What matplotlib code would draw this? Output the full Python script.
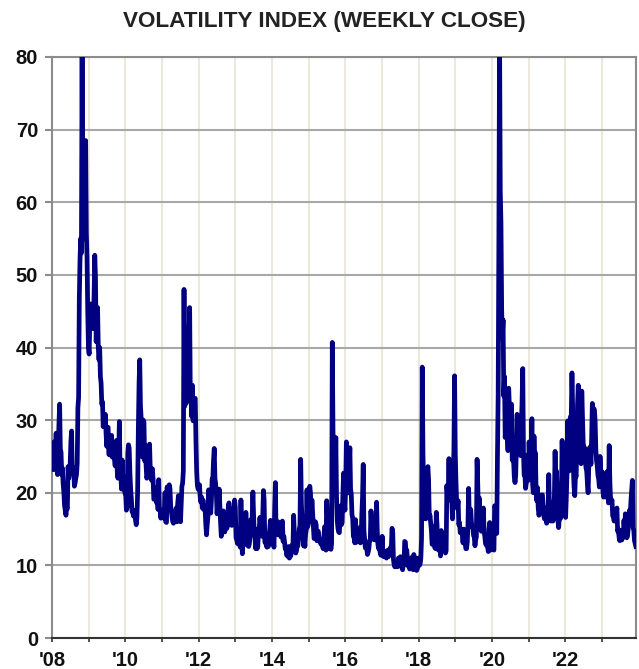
import matplotlib
matplotlib.use("Agg")
import matplotlib.pyplot as plt
import matplotlib.dates as mdates
from matplotlib import font_manager
import pandas as pd

# Weekly (Monday) VIX closes, one list per year
vix_2008 = [23.2, 24.0, 27.0, 25.5, 24.0, 28.2, 24.0, 22.5, 26.0, 29.4, 32.2, 26.0, 25.6,
            22.5, 23.4, 21.2, 20.1, 18.2, 17.5, 16.9, 18.0, 17.8, 23.6, 22.0, 22.6, 23.9,
            27.0, 28.5, 22.9, 22.6, 23.5, 20.9, 21.3, 22.0, 22.5, 24.0, 31.7, 33.1, 46.7,
            52.1, 55.0, 53.0, 80.9, 54.9, 56.1, 67.6, 64.7, 68.5, 55.8, 52.4, 44.9, 40.0]
vix_2009 = [39.1, 44.0, 46.0, 45.7, 43.0, 42.6, 44.0, 47.1, 52.7, 49.7, 40.8, 43.2, 45.5,
            40.0, 38.3, 40.0, 36.0, 35.1, 32.2, 32.5, 29.1, 30.0, 29.8, 30.8, 28.3, 26.4,
            29.0, 29.0, 25.3, 25.2, 26.0, 26.7, 27.9, 24.9, 26.0, 25.9, 24.6, 23.7, 25.6,
            27.2, 22.9, 22.0, 25.1, 29.8, 23.1, 22.9, 20.5, 24.5, 21.3, 22.3, 20.5, 19.9]
vix_2010 = [19.8, 17.6, 18.0, 25.4, 26.6, 26.1, 22.7, 20.6, 19.3, 17.4, 17.6, 16.8, 17.5,
            17.0, 16.2, 15.6, 16.6, 20.2, 28.8, 35.0, 38.3, 32.0, 30.3, 27.5, 24.9, 30.0,
            29.7, 24.4, 26.5, 23.8, 22.0, 22.4, 24.3, 26.4, 26.7, 23.0, 22.0, 21.7, 23.3,
            21.8, 19.1, 19.1, 20.7, 20.7, 18.6, 20.2, 17.7, 21.8, 17.9, 17.6, 16.5, 17.5]
vix_2011 = [17.6, 17.5, 16.5, 17.6, 20.0, 16.0, 15.9, 20.8, 18.4, 20.0, 21.1, 20.6, 18.2,
            17.4, 16.6, 16.0, 15.8, 16.0, 16.4, 17.4, 17.9, 16.0, 18.5, 19.6, 19.2, 17.7,
            16.0, 18.4, 20.9, 21.3, 23.0, 48.0, 31.9, 42.4, 32.3, 36.0, 38.6, 37.5, 40.9,
            45.5, 32.9, 33.4, 30.5, 34.8, 29.9, 32.8, 32.9, 33.0, 27.0, 22.9, 21.0, 20.5]
vix_2012 = [20.5, 21.1, 19.4, 18.7, 19.4, 17.9, 19.0, 17.7, 18.2, 17.7, 15.6, 14.2, 15.6,
            16.7, 20.4, 18.5, 18.9, 17.2, 18.9, 21.9, 22.0, 24.5, 26.1, 22.0, 21.2, 20.0,
            17.1, 18.3, 18.2, 20.5, 18.2, 15.9, 14.0, 14.7, 16.9, 17.5, 16.3, 14.6, 16.0,
            16.3, 15.1, 15.7, 18.1, 18.6, 17.6, 17.2, 15.6, 15.5, 17.0, 16.4, 17.5, 19.0, 18.0]
vix_2013 = [13.8, 13.5, 13.0, 13.6, 14.7, 13.0, 12.5, 19.0, 14.0, 11.6, 14.4, 13.7,
            13.6, 12.9, 17.3, 14.4, 13.7, 12.7, 12.6, 13.0, 14.0, 16.3, 15.4, 16.6, 20.1,
            16.9, 14.4, 13.8, 12.3, 13.4, 12.3, 12.6, 15.1, 15.0, 16.6, 15.6, 14.4, 14.0, 16.6,
            20.3, 19.0, 13.2, 13.2, 12.8, 12.5, 13.1, 12.6, 14.0, 15.0, 16.2, 13.0, 13.7]
vix_2014 = [13.6, 13.3, 12.5, 18.0, 21.4, 14.5, 14.3, 14.2, 16.0, 14.2, 14.5, 15.1, 13.9,
            15.6, 16.1, 13.3, 14.0, 13.3, 12.3, 12.4, 11.4, 11.6, 11.2, 12.6, 11.0, 11.6,
            11.3, 12.2, 12.8, 12.7, 16.9, 14.2, 12.3, 11.7, 12.0, 12.6, 12.7, 13.7, 15.0,
            15.5, 24.6, 18.6, 16.0, 14.9, 12.7, 14.0, 12.6, 14.3, 14.9, 20.4, 15.3, 15.9]
vix_2015 = [19.9, 20.9, 19.9, 16.0, 19.0, 17.3, 15.8, 13.7, 13.9, 16.0, 15.6, 13.4, 14.5,
            14.7, 13.9, 13.3, 13.1, 12.9, 13.6, 12.7, 12.3, 13.8, 15.3, 15.4, 12.1, 18.9,
            16.8, 13.0, 12.3, 15.6, 13.0, 12.2, 13.0, 40.7, 28.4, 25.6, 24.4, 20.1, 27.6,
            19.5, 16.2, 15.1, 14.6, 14.5, 16.5, 18.2, 15.6, 15.9, 19.6, 22.7, 18.7, 17.6]
vix_2016 = [20.7, 27.0, 24.0, 22.5, 19.98, 23.4, 26.2, 20.5, 19.8, 17.0, 16.5, 14.0, 13.8,
            13.1, 16.3, 13.6, 13.2, 14.7, 14.6, 15.0, 15.2, 13.1, 13.5, 17.0, 19.4, 23.9,
            14.8, 13.5, 12.4, 12.9, 12.4, 11.5, 11.8, 12.3, 13.4, 13.5, 17.5, 15.5, 14.5,
            13.6, 15.4, 15.9, 13.5, 16.0, 18.7, 14.7, 12.8, 12.3, 13.0, 11.8, 11.4, 12.2]
vix_2017 = [14.0, 11.6, 11.2, 11.8, 11.9, 11.4, 11.0, 11.5, 12.1, 11.2, 11.4, 12.3, 12.5,
            12.4, 15.1, 14.6, 10.8, 10.1, 9.8, 10.4, 10.1, 10.4, 9.8, 11.0, 10.9, 10.0,
            11.2, 11.1, 9.8, 9.4, 10.3, 10.0, 13.3, 13.2, 11.3, 12.1, 10.7, 9.9, 10.2,
            9.5, 9.9, 10.3, 11.1, 10.5, 9.4, 11.5, 10.6, 9.9, 11.0, 9.3, 9.5, 10.3]
vix_2018 = [11.0, 10.0, 10.2, 11.0, 13.8, 37.3, 25.6, 19.5, 16.5, 18.7, 16.4, 19.0, 22.5,
            23.6, 21.8, 16.5, 16.9, 15.9, 14.8, 12.9, 13.1, 15.4, 12.7, 12.4, 12.3, 17.3,
            15.6, 12.7, 12.1, 12.6, 14.3, 11.3, 14.8, 12.5, 12.2, 12.9, 14.2, 13.0, 11.7,
            12.0, 21.0, 19.4, 19.6, 24.7, 19.0, 20.5, 22.5, 18.9, 16.4, 22.6, 25.6, 36.1, 25.4]
vix_2019 = [21.4, 18.6, 17.8, 18.9, 15.6, 15.9, 14.5, 14.9, 14.6, 14.3, 13.1, 15.0,
            13.4, 13.2, 12.3, 12.3, 13.1, 15.4, 20.6, 16.3, 16.0, 17.7, 15.9, 15.3, 15.3,
            14.1, 13.9, 12.7, 13.5, 13.9, 24.6, 21.1, 16.9, 19.3, 17.3, 15.3, 14.7, 16.3, 16.2,
            17.9, 14.6, 14.0, 13.0, 12.8, 12.7, 12.5, 11.9, 15.0, 15.9, 12.1, 12.6, 14.8]
vix_2020 = [13.8, 12.3, 12.1, 18.2, 18.0, 15.0, 14.4, 25.0, 33.4, 54.5, 82.7, 61.6, 57.1,
            45.2, 41.2, 43.8, 33.3, 36.0, 27.6, 29.3, 28.0, 28.2, 25.8, 34.4, 31.8, 31.8,
            27.9, 32.2, 24.5, 24.8, 24.3, 22.1, 21.4, 22.4, 26.4, 30.8, 25.9, 27.8, 26.2,
            28.0, 25.1, 29.2, 32.5, 37.1, 25.7, 22.4, 22.7, 20.6, 21.3, 22.5, 25.2, 21.7]
vix_2021 = [27.0, 24.1, 21.9, 23.0, 30.2, 21.2, 20.0, 27.8, 23.4, 25.5, 20.0, 18.9, 20.7,
            17.9, 16.9, 17.3, 17.6, 18.3, 19.7, 19.7, 18.4, 16.8, 16.4, 16.4, 17.9, 15.8,
            16.4, 16.2, 22.5, 17.6, 18.0, 16.1, 18.6, 17.2, 16.1, 18.1, 19.4, 25.7, 21.2,
            23.0, 19.9, 16.3, 15.2, 16.4, 17.2, 16.5, 19.2, 27.2, 21.8, 19.9, 22.9, 17.7]
vix_2022 = [16.6, 19.4, 22.8, 29.9, 24.8, 23.0, 28.3, 30.5, 30.2, 36.5, 31.8, 23.5, 20.8,
            19.6, 22.5, 22.2, 27.0, 32.3, 34.8, 27.5, 28.5, 26.2, 24.0, 34.0, 30.2, 26.9,
            26.0, 26.2, 24.5, 23.4, 23.0, 21.3, 20.0, 23.8, 26.2, 26.3, 23.9, 27.4, 32.3,
            30.1, 31.6, 31.4, 29.9, 25.9, 24.4, 23.7, 22.4, 21.9, 20.8, 25.0, 22.6, 20.9]
vix_2023 = [22.9, 20.3, 19.4, 19.8, 19.9, 19.4, 20.3, 22.9, 20.7, 18.6, 26.5, 21.4, 19.0,
            18.6, 19.0, 16.8, 16.9, 16.1, 17.4, 17.1, 17.2, 17.9, 14.7, 15.0, 13.9, 13.4,
            14.8, 14.8, 13.5, 13.9, 13.9, 16.2, 14.8, 17.1, 15.1, 13.8, 14.0, 15.0, 16.9,
            17.6, 17.0, 19.0, 20.4, 21.7, 15.2, 14.8, 13.4, 13.0, 12.6]

years = list(range(2008, 2024))
year_values = [vix_2008, vix_2009, vix_2010, vix_2011, vix_2012, vix_2013, vix_2014,
               vix_2015, vix_2016, vix_2017, vix_2018, vix_2019, vix_2020, vix_2021,
               vix_2022, vix_2023]

title = "VOLATILITY INDEX (WEEKLY CLOSE)"
y_ticks = [0, 10, 20, 30, 40, 50, 60, 70, 80]
x_label_years = [2008, 2010, 2012, 2014, 2016, 2018, 2020, 2022]

dates, vals = [], []
for y, v in zip(years, year_values):
    d = pd.date_range(f"{y}-01-01", f"{y}-12-31", freq="W-MON")
    n = min(len(d), len(v))
    dates.extend(d[:n])
    vals.extend(v[:n])

names = {f.name for f in font_manager.fontManager.ttflist}
title_font = "Liberation Sans Narrow" if "Liberation Sans Narrow" in names else "Liberation Sans"
tick_font = "Liberation Sans"

fig = plt.figure(figsize=(6.39, 6.69), dpi=100)
ax = fig.add_axes([52 / 639, 31 / 669, 584 / 639, 581 / 669])

ax.plot(dates, vals, color="#000080", lw=3.4, solid_joinstyle="round", zorder=3)

ax.set_ylim(0, 80)
ax.set_yticks(y_ticks)
ax.set_xlim(pd.Timestamp("2008-01-01"), pd.Timestamp("2023-12-05"))
ax.set_xticks([pd.Timestamp(f"{y}-01-01") for y in years])
ax.set_xticklabels([("'" + str(y)[2:]) if y in x_label_years else "" for y in years])

ax.grid(axis="x", color="#ece9dc", lw=1.5, zorder=0)
ax.grid(axis="y", color="#a8a8a8", lw=1.5, zorder=1)

for s in ["left", "top", "right"]:
    ax.spines[s].set_color("#8c8c8c")
    ax.spines[s].set_linewidth(1.5)
ax.spines["bottom"].set_color("#333333")
ax.spines["bottom"].set_linewidth(1.5)

ax.tick_params(axis="y", length=5, width=1.5, color="#8c8c8c", pad=5,
               labelsize=14.5)
ax.tick_params(axis="x", length=3, width=1.2, color="#333333", pad=6,
               labelsize=14.5)
for lab in ax.get_xticklabels() + ax.get_yticklabels():
    lab.set_fontfamily(tick_font)
    lab.set_fontweight("bold")
    lab.set_color("#111111")

fig.text(324 / 639, 1 - 22 / 669, title, ha="center", va="center",
         fontsize=16.2, fontweight="bold", family=title_font, color="#222222")

fig.savefig("out.png", dpi=100)
